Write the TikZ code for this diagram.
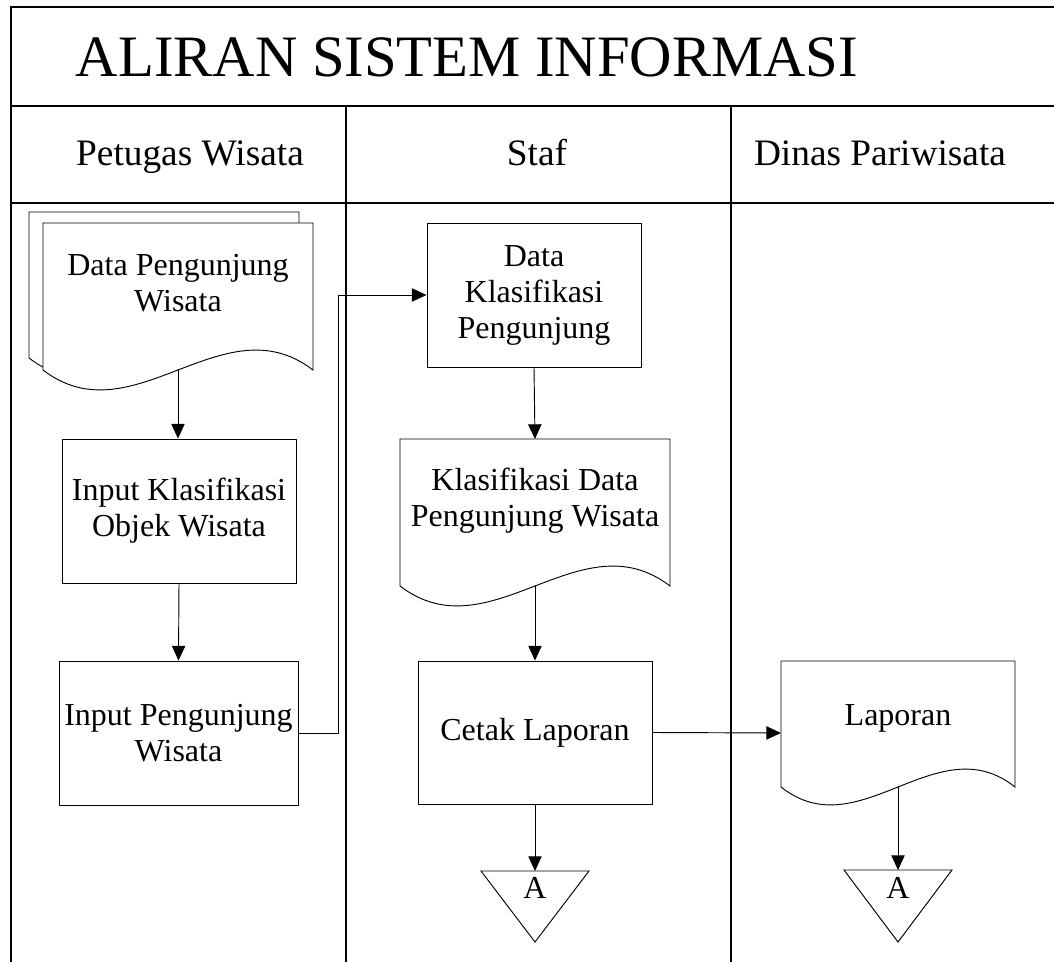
\documentclass[tikz,border=0pt]{standalone}
\usepackage{fontspec}
\setmainfont{Liberation Serif}
\usetikzlibrary{arrows.meta,calc}
\begin{document}
\begin{tikzpicture}[x=0.75pt,y=-0.75pt]
\tikzset{
  frame/.style={line width=0.9pt, draw=black},
  procbox/.style={draw=black, line width=0.7pt, rectangle, align=center, inner sep=0pt, font=\fontsize{24}{27}\selectfont},
  docline/.style={draw=black, line width=0.7pt, fill=white},
  txt/.style={font=\fontsize{24}{27}\selectfont, align=center, inner sep=0pt},
  headtxt/.style={font=\fontsize{28}{32}\selectfont, inner sep=0pt, anchor=base},
  titletxt/.style={font=\fontsize{44}{50}\selectfont, inner sep=0pt, anchor=base},
  arr/.style={-{Triangle[length=11pt,width=10pt]}, line width=0.7pt, draw=black}
}
\useasboundingbox (0,0) rectangle (1054,962);
% frame
\draw[frame] (1054,7) -- (11,7) -- (11,962);
\draw[frame] (11,106) -- (1054,106);
\draw[frame] (11,203) -- (1054,203);
\draw[frame] (346,106) -- (346,962);
\draw[frame] (731,106) -- (731,962);
% titles
\node[titletxt] (title) at (467,77) {ALIRAN SISTEM INFORMASI};
\node[headtxt] (h1) at (190,166) {Petugas Wisata};
\node[headtxt] (h2) at (537,166) {Staf};
\node[headtxt] (h3) at (880,166) {Dinas Pariwisata};
% document 1 (multi)
\draw[docline] (29,212) -- (299,212) -- (299,358) .. controls (209,289) and (119,427) .. (29,358) -- cycle;
\draw[docline] (43,223) -- (313,223) -- (313,370) .. controls (223,301) and (133,439) .. (43,370) -- cycle;
\node[txt] (doc1) at (178,283.5) {Data Pengunjung\\Wisata};
\coordinate (doc1b) at (178,370);
% process boxes
\node[procbox, minimum width=175.5pt, minimum height=108pt] (ik) at (179,511) {Input Klasifikasi\\Objek Wisata};
\node[procbox, minimum width=179.25pt, minimum height=108pt] (ip) at (178.5,733) {Input Pengunjung\\Wisata};
\node[procbox, minimum width=160.5pt, minimum height=108pt] (dk) at (534,295) {Data\\Klasifikasi\\Pengunjung};
\node[procbox, minimum width=175.5pt, minimum height=107.25pt] (cl) at (535,732.5) {Cetak Laporan};
% document 2
\draw[docline] (400,439) -- (670,439) -- (670,586) .. controls (580,517) and (490,655) .. (400,586) -- cycle;
\node[txt] (doc2) at (535,500.5) {Klasifikasi Data\\Pengunjung Wisata};
\coordinate (doc2t) at (535,439);
\coordinate (doc2b) at (535,586);
% laporan document
\draw[docline] (781,661) -- (1015,661) -- (1015,787) .. controls (937,725) and (859,849) .. (781,787) -- cycle;
\node[txt, anchor=base] (lap) at (898,725) {Laporan};
\coordinate (lapw) at (781,733);
\coordinate (lapb) at (898,787);
% off-page connectors
\draw[docline] (481,871) -- (589,871) -- (535,942) -- cycle;
\node[txt, anchor=base] (a1) at (535,898) {A};
\coordinate (t1) at (535,871);
\draw[docline] (844,870) -- (952,870) -- (898,942) -- cycle;
\node[txt, anchor=base] (a2) at (898,898) {A};
\coordinate (t2) at (898,870);
% connectors
\coordinate (bend) at (338,295);
\draw[arr] (doc1b) -- (doc1b |- ik.north);
\draw[arr] (ik.south) -- (ip.north);
\draw[arr] (ip.east) -| (bend) -- (dk.west);
\draw[arr] (dk.south) -- (doc2t);
\draw[arr] (doc2b) -- (cl.north);
\draw[arr] (cl.east) -- (lapw);
\draw[arr] (cl.south) -- (t1);
\draw[arr] (lapb) -- (t2);
\end{tikzpicture}
\end{document}
